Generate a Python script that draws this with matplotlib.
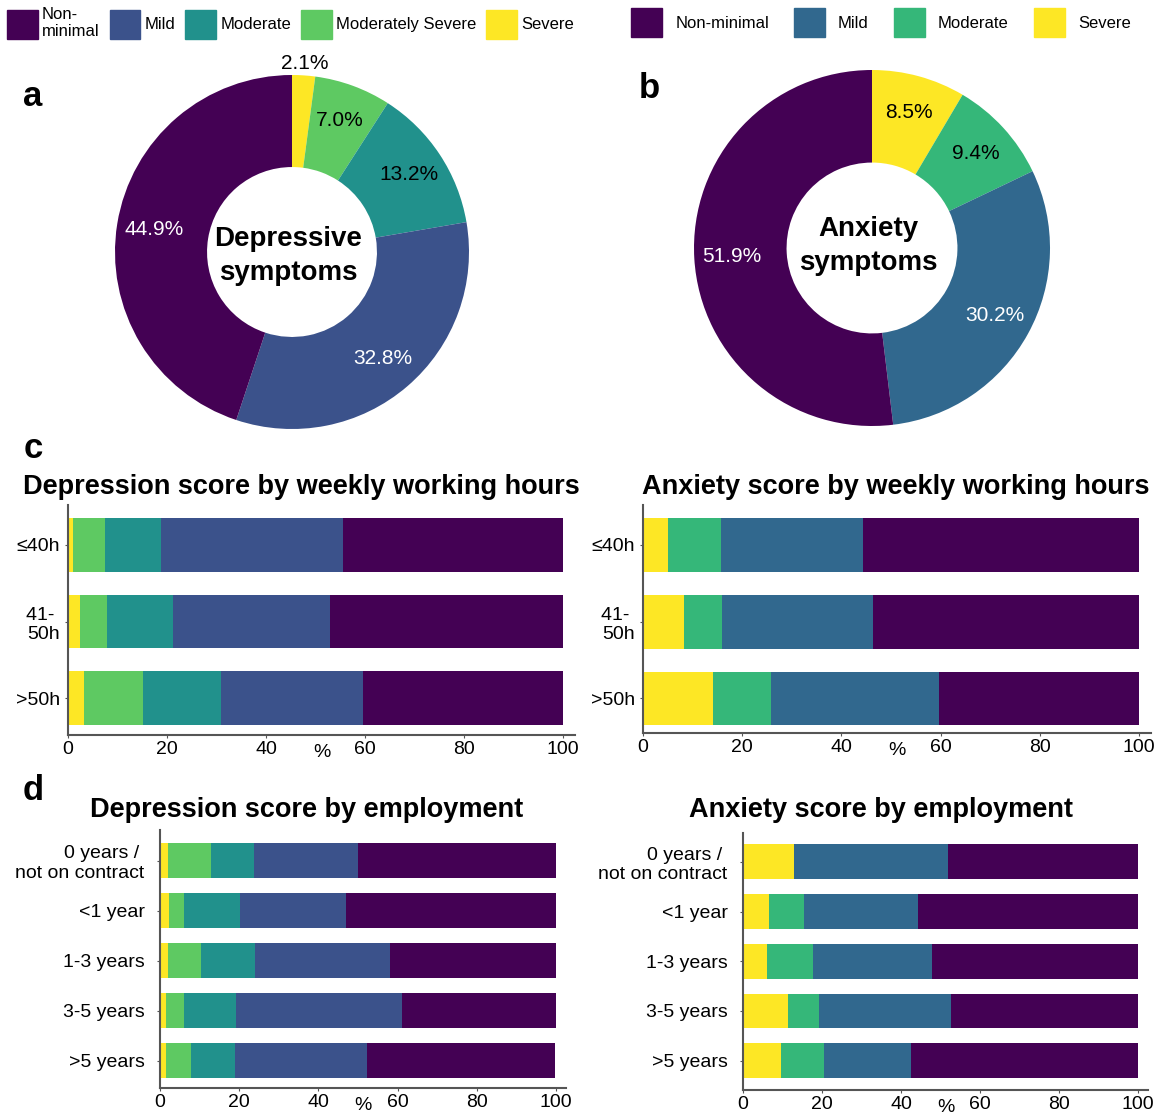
import matplotlib
matplotlib.use("Agg")
import matplotlib.pyplot as plt
import numpy as np
from matplotlib.patches import Patch

plt.rcParams['font.family'] = ['Liberation Sans', 'DejaVu Sans']

# ---------------- data ----------------
dep_levels = ["Severe", "Moderately Severe", "Moderate", "Mild", "Non-minimal"]
anx_levels = ["Severe", "Moderate", "Mild", "Non-minimal"]
dep_colors = ["#fde725", "#5ec962", "#21918c", "#3b528b", "#440154"]
anx_colors = ["#fde725", "#35b779", "#31688e", "#440154"]

dep_pie = [2.1, 7.0, 13.2, 32.8, 44.9]
anx_pie = [8.5, 9.4, 30.2, 51.9]

hours_labels = ["\u226440h", "41- \n50h", ">50h"]
dep_hours_severe = [1.0, 2.4, 3.2]
dep_hours_modsev = [6.5, 5.5, 12.0]
dep_hours_moderate = [11.3, 13.3, 15.7]
dep_hours_mild = [36.8, 31.8, 28.6]
dep_hours_nonmin = [44.4, 47.0, 40.5]

anx_hours_severe = [5.1, 8.3, 14.2]
anx_hours_moderate = [10.7, 7.7, 11.7]
anx_hours_mild = [28.5, 30.3, 33.7]
anx_hours_nonmin = [55.7, 53.7, 40.4]

emp_labels = ["0 years / \nnot on contract", "<1 year", "1-3 years", "3-5 years", ">5 years"]
dep_emp_severe = [2.1, 2.3, 2.1, 1.6, 1.6]
dep_emp_modsev = [10.8, 3.8, 8.3, 4.5, 6.3]
dep_emp_moderate = [10.8, 14.1, 13.6, 13.1, 11.0]
dep_emp_mild = [26.2, 26.7, 34.0, 42.0, 33.3]
dep_emp_nonmin = [50.1, 53.1, 42.0, 38.8, 47.5]

anx_emp_severe = [12.8, 6.7, 6.2, 11.3, 9.5]
anx_emp_moderate = [0.0, 8.7, 11.5, 7.9, 11.0]
anx_emp_mild = [39.2, 29.0, 30.1, 33.4, 22.1]
anx_emp_nonmin = [48.0, 55.6, 52.2, 47.4, 57.4]

dep_legend = ["Non-\nminimal", "Mild", "Moderate", "Moderately Severe", "Severe"]
anx_legend = ["Non-minimal", "Mild", "Moderate", "Severe"]

# ---------------- figure ----------------
W, H = 1163, 1114
fig = plt.figure(figsize=(W / 100, H / 100), dpi=100)


def fx(px):
    return px / W


def fy(py):
    return 1 - py / H


def pie_axes(cx, cy, R):
    side = 2.5 * R
    return fig.add_axes([fx(cx - side / 2), fy(cy + side / 2), side / W, side / H])


def draw_pie(ax, vals, colors, center_text, dark_idx, outside_idx=None, text_dy=0.0):
    wedges, _ = ax.pie(vals, colors=colors, startangle=90, counterclock=False,
                       wedgeprops=dict(width=0.52, linewidth=0))
    for i, (w, v) in enumerate(zip(wedges, vals)):
        ang = np.deg2rad((w.theta1 + w.theta2) / 2)
        r = 1.07 if i == outside_idx else 0.79
        col = "white" if i in dark_idx else "black"
        ax.text(r * np.cos(ang), r * np.sin(ang), f"{v:.1f}%", ha="center", va="center",
                fontsize=15, color=col)
    ax.text(-0.02, text_dy, center_text, ha="center", va="center", fontsize=20,
            fontweight="bold", linespacing=1.4)
    ax.set_xlim(-1.25, 1.25)
    ax.set_ylim(-1.25, 1.25)
    ax.set_aspect("equal")


ax_a = pie_axes(292, 252, 177)
draw_pie(ax_a, dep_pie, dep_colors, "Depressive\nsymptoms", dark_idx=[3, 4], outside_idx=0,
         text_dy=-0.02)
ax_b = pie_axes(872, 248, 178)
draw_pie(ax_b, anx_pie, anx_colors, "Anxiety\nsymptoms", dark_idx=[2, 3], text_dy=0.01)


def bar_axes(x0, x100, ytop, ybot):
    width_px = (x100 - x0) * 1.025
    return fig.add_axes([fx(x0), fy(ybot), width_px / W, (ybot - ytop) / H])


def draw_bars(ax, labels, series, colors, ylo, yhi, ypad=4):
    y = np.arange(len(labels))
    left = np.zeros(len(labels))
    for vals, c in zip(series, colors):
        vals = np.array(vals)
        ax.barh(y, vals, left=left, height=0.7, color=c, linewidth=0)
        left += vals
    ax.set_yticks(y)
    ax.set_yticklabels(labels, fontsize=14)
    ax.set_ylim(yhi, ylo)
    ax.set_xlim(0, 102.5)
    ax.set_xticks([0, 20, 40, 60, 80, 100])
    ax.tick_params(axis="x", labelsize=14, length=2, pad=2, color="#555555")
    ax.tick_params(axis="y", length=2, pad=ypad, color="#555555")
    for s in ["top", "right"]:
        ax.spines[s].set_visible(False)
    for s in ["left", "bottom"]:
        ax.spines[s].set_color("#555555")
        ax.spines[s].set_linewidth(1.5)
    ax.set_xlabel("%", fontsize=14, labelpad=-10)


ax_c1 = bar_axes(68, 563, 505, 735)
draw_bars(ax_c1, hours_labels,
          [dep_hours_severe, dep_hours_modsev, dep_hours_moderate, dep_hours_mild, dep_hours_nonmin],
          dep_colors, -0.52, 2.48)
ax_c2 = bar_axes(643, 1139, 505, 733)
draw_bars(ax_c2, hours_labels,
          [anx_hours_severe, anx_hours_moderate, anx_hours_mild, anx_hours_nonmin],
          anx_colors, -0.52, 2.45)
ax_d1 = bar_axes(160, 556, 830, 1088)
draw_bars(ax_d1, emp_labels,
          [dep_emp_severe, dep_emp_modsev, dep_emp_moderate, dep_emp_mild, dep_emp_nonmin],
          dep_colors, -0.61, 4.55, ypad=9)
ax_d2 = bar_axes(743, 1138, 833, 1090)
draw_bars(ax_d2, emp_labels,
          [anx_emp_severe, anx_emp_moderate, anx_emp_mild, anx_emp_nonmin],
          anx_colors, -0.58, 4.59, ypad=9)

# titles
fig.text(fx(301), fy(487), "Depression score by weekly working hours", ha="center", va="center",
         fontsize=19.5, fontweight="bold")
fig.text(fx(896), fy(487), "Anxiety score by weekly working hours", ha="center", va="center",
         fontsize=19.5, fontweight="bold")
fig.text(fx(307), fy(810), "Depression score by employment", ha="center", va="center",
         fontsize=19.5, fontweight="bold")
fig.text(fx(881), fy(810), "Anxiety score by employment", ha="center", va="center",
         fontsize=19.5, fontweight="bold")

# panel letters
for letter, (px, py) in zip("abcd", [(33, 97), (649, 89), (33, 449), (33, 790)]):
    fig.text(fx(px), fy(py), letter, ha="center", va="center", fontsize=25, fontweight="bold")

# legends
dep_handles = [Patch(color=c) for c in dep_colors[::-1]]
anx_handles = [Patch(color=c) for c in anx_colors[::-1]]
fig.legend(dep_handles, dep_legend, loc="upper left", bbox_to_anchor=(fx(2), fy(2)),
           ncol=5, frameon=False, fontsize=12, handlelength=1.85, handleheight=2.3,
           handletextpad=0.25, columnspacing=0.6, borderpad=0.3, borderaxespad=0)
fig.legend(anx_handles, anx_legend, loc="upper left", bbox_to_anchor=(fx(626), fy(3)),
           ncol=4, frameon=False, fontsize=12, handlelength=1.85, handleheight=2.3,
           handletextpad=0.8, columnspacing=1.5, borderpad=0.3, borderaxespad=0)

fig.savefig("out.png", dpi=100)
